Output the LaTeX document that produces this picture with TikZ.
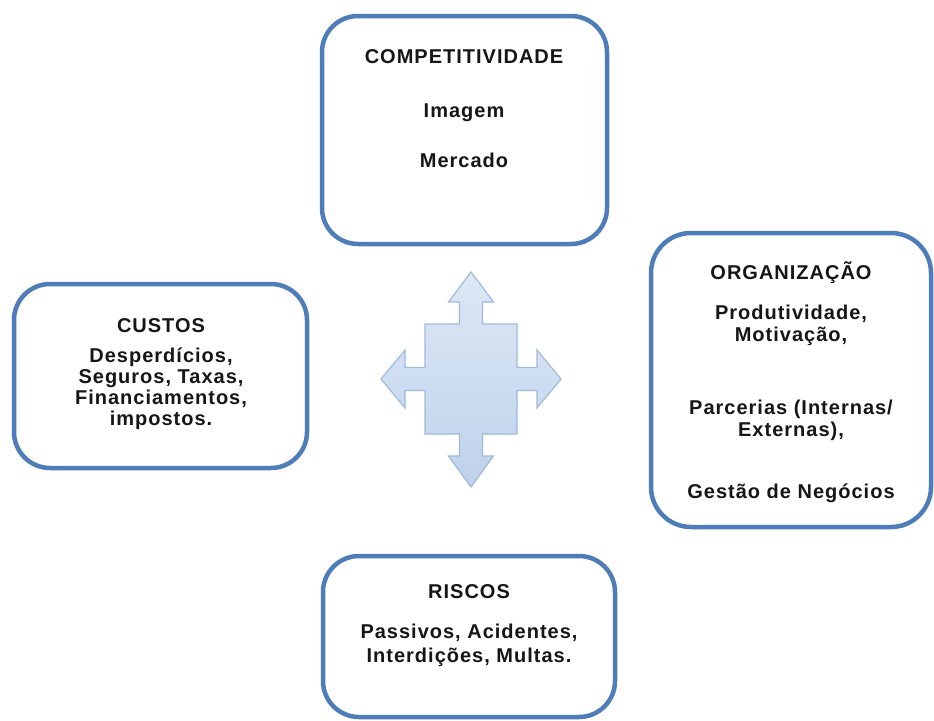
\documentclass[tikz,border=0pt]{standalone}
\usepackage{fontspec}
\newfontfamily\lbl[LetterSpace=5]{Liberation Sans}
\definecolor{boxblue}{HTML}{4F7DBA}
\definecolor{textc}{HTML}{161616}
\definecolor{arrowtop}{HTML}{DDE8F5}
\definecolor{arrowbot}{HTML}{BFD2EB}
\definecolor{arrowline}{HTML}{9FBADD}
\begin{document}
\begin{tikzpicture}[x=1pt,y=-1pt,
  box/.style={draw=boxblue, line width=4.5pt, rounded corners=36pt, fill=white, inner sep=0pt},
  txt/.style={font=\lbl\bfseries\fontsize{20}{22}\selectfont, text=textc, anchor=base, inner sep=0pt}]
\useasboundingbox (0,0) rectangle (934,720);
\fill[white] (0,0) rectangle (934,720);
% boxes
\node[box, minimum width=285pt, minimum height=228pt] (topbox) at (464.5,130) {};
\node[box, minimum width=293pt, minimum height=184pt] (leftbox) at (160.5,376) {};
\node[box, minimum width=280pt, minimum height=294pt, rounded corners=40pt] (rightbox) at (791,380) {};
\node[box, minimum width=292pt, minimum height=161pt] (botbox) at (469,636.5) {};
% central four-way arrow
\path[draw=arrowline, line width=1.2pt, top color=arrowtop, bottom color=arrowbot, line join=miter]
  (471,272) -- (493.5,302) -- (482.5,302) -- (482.5,324) -- (517,324) -- (517,367.5)
  -- (537,367.5) -- (537,350) -- (561,379) -- (537,408) -- (537,390.5) -- (517,390.5)
  -- (517,434) -- (482.5,434) -- (482.5,456) -- (493.5,456) -- (471,487) -- (448.5,456)
  -- (459.5,456) -- (459.5,434) -- (425,434) -- (425,390.5) -- (405,390.5) -- (405,408)
  -- (381,379) -- (405,350) -- (405,367.5) -- (425,367.5) -- (425,324) -- (459.5,324)
  -- (459.5,302) -- (448.5,302) -- cycle;
% texts: top
\node[txt] (t1) at (464,63) {COMPETITIVIDADE};
\node[txt] (t2) at (464,117) {Imagem};
\node[txt] (t3) at (464,167) {Mercado};
% left
\node[txt] (l1) at (161,332) {CUSTOS};
\node[txt] (l2) at (161,362) {Desperdícios,};
\node[txt] (l3) at (161,383) {Seguros, Taxas,};
\node[txt] (l4) at (161,404) {Financiamentos,};
\node[txt] (l5) at (161,425) {impostos.};
% right
\node[txt] (r1) at (791,279) {ORGANIZAÇÃO};
\node[txt] (r2) at (791,319) {Produtividade,};
\node[txt] (r3) at (791,341) {Motivação,};
\node[txt] (r4) at (791,414) {Parcerias (Internas/};
\node[txt] (r5) at (791,436) {Externas),};
\node[txt] (r6) at (791,498) {Gestão de Negócios};
% bottom
\node[txt] (b1) at (469,598) {RISCOS};
\node[txt] (b2) at (469,638) {Passivos, Acidentes,};
\node[txt] (b3) at (469,662) {Interdições, Multas.};
\end{tikzpicture}
\end{document}
